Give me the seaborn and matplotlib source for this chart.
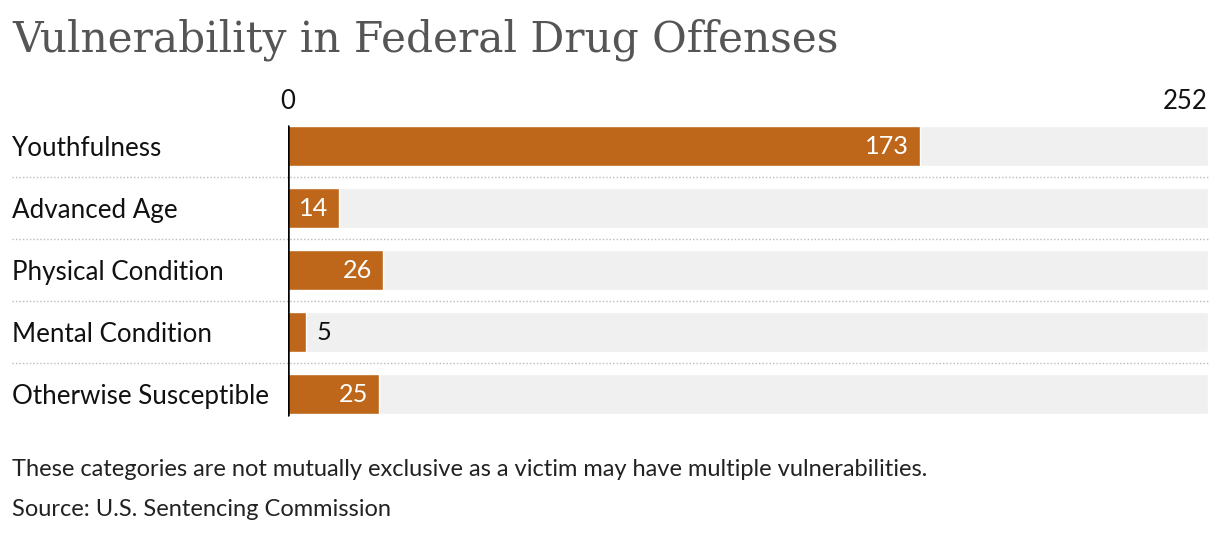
import matplotlib
matplotlib.use("Agg")
import matplotlib.pyplot as plt
import matplotlib.transforms as mtransforms
import seaborn as sns
import pandas as pd

# data
categories = ["Youthfulness", "Advanced Age", "Physical Condition",
              "Mental Condition", "Otherwise Susceptible"]
counts = [173, 14, 26, 5, 25]
max_value = 252
tick_values = [0, 252]
tick_labels = ["0", "252"]

title = "Vulnerability in Federal Drug Offenses"
note = "These categories are not mutually exclusive as a victim may have multiple vulnerabilities."
source = "Source: U.S. Sentencing Commission"

BAR_COLOR = "#BE671B"
BG_COLOR = "#F0F0F0"
W, H = 1220, 534

sns.set_theme(style="white")
plt.rcParams['font.family'] = ['Lato', 'DejaVu Sans']

df = pd.DataFrame({"Category": categories, "Count": counts})
df["Max"] = max_value

fig = plt.figure(figsize=(W / 100, H / 100), dpi=100)
# axes in pixel coordinates: x 288..1208, rows of 62 px starting at y=115
ax_left, ax_right = 288, 1208
ax_top, ax_bottom = 115, 115 + 62 * len(categories)
ax = fig.add_axes([ax_left / W, 1 - ax_bottom / H,
                   (ax_right - ax_left) / W, (ax_bottom - ax_top) / H])

bar_w = 40 / 62
sns.barplot(data=df, x="Max", y="Category", color=BG_COLOR, width=bar_w,
            ax=ax, saturation=1)
sns.barplot(data=df, x="Count", y="Category", color=BAR_COLOR, width=bar_w,
            ax=ax, saturation=1)

ax.set_xlim(0, max_value)
ax.set_ylim(len(categories) - 0.5, -0.5)
for s in ax.spines.values():
    s.set_visible(False)
ax.set_xlabel("")
ax.set_ylabel("")

# top ticks
ax.xaxis.tick_top()
ax.set_xticks(tick_values)
ax.set_xticklabels(tick_labels, fontsize=18.5, color="#111111")
ax.tick_params(axis="x", length=0, pad=1)
xt = ax.get_xticklabels()
xt[-1].set_ha("right")

# left labels, left-aligned at x=12
ax.set_yticks(range(len(categories)))
ax.set_yticklabels(categories, fontsize=18.7, color="#111111", ha="left")
ax.tick_params(axis="y", length=0, pad=(ax_left - 12) * 0.72)

# zero line spans bar rows
frac = (1 - bar_w) / 2 / len(categories)
ax.axvline(0, ymin=frac - 0.003, ymax=1 - frac, color="black", lw=1.8, zorder=5)

# dotted separators from the label column to the right edge
trans = mtransforms.blended_transform_factory(fig.transFigure, ax.transData)
for i in range(len(categories) - 1):
    ax.plot([12 / W, ax_right / W], [i + 0.5, i + 0.5], transform=trans,
            color="#BBBBBB", lw=1, ls=(0, (1, 1.5)), clip_on=False)

# value labels
for i, v in enumerate(counts):
    if v >= 10:
        ax.annotate(str(v), (v, i), xytext=(-11, 0), textcoords="offset pixels",
                    ha="right", va="center", color="white", fontsize=18.2)
    else:
        ax.annotate(str(v), (v, i), xytext=(10, 0), textcoords="offset pixels",
                    ha="left", va="center", color="#111111", fontsize=18.2)

fig.text(12 / W, 1 - 40 / H, title, family=['DejaVu Serif'], fontsize=30.4,
         color="#555555", va="center", ha="left")
fig.text(12 / W, 1 - 470 / H, note, fontsize=17, color="#222222",
         va="center", ha="left")
fig.text(12 / W, 1 - 509 / H, source, fontsize=17, color="#222222",
         va="center", ha="left")

fig.savefig("out.png", dpi=100)
